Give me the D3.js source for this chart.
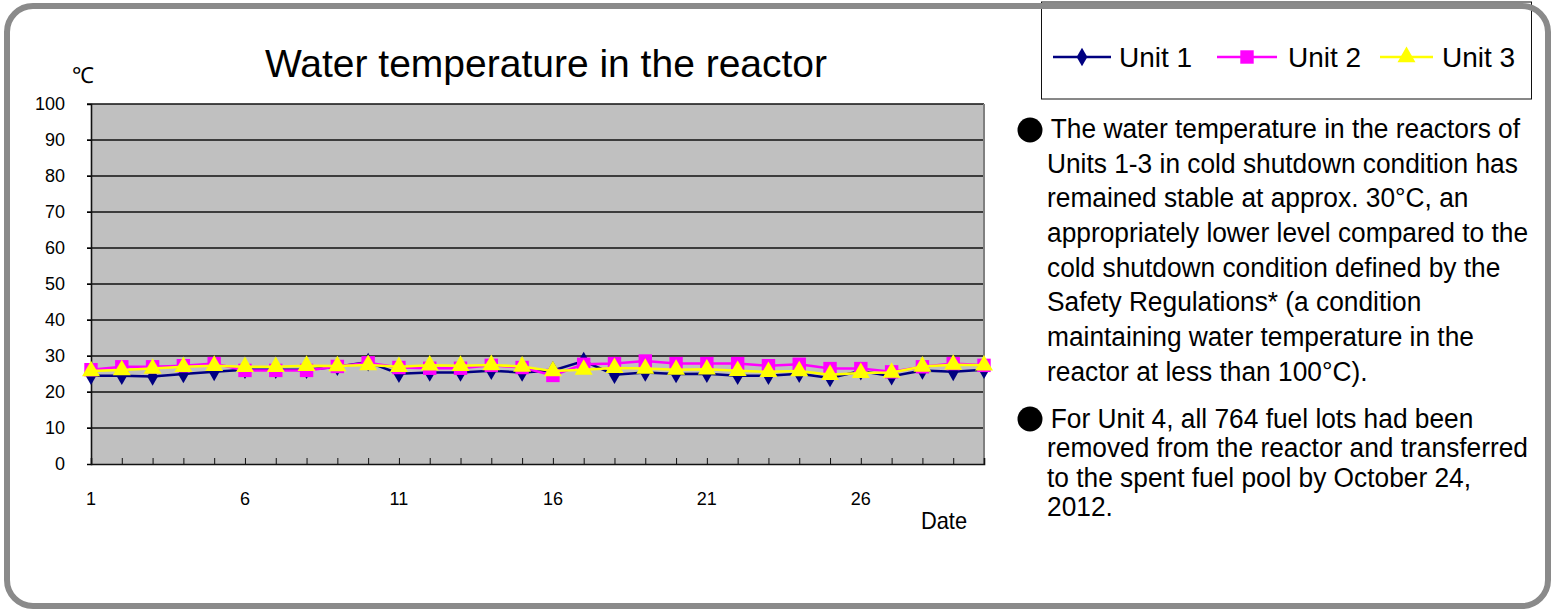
<!DOCTYPE html>
<html>
<head>
<meta charset="utf-8">
<script src="https://cdn.jsdelivr.net/npm/d3@7"></script>
<style>
    body { margin: 0; background: white; }
    svg { display: block; font-family: "Liberation Sans", Arial, sans-serif; }
</style>
</head>
<body>
<div id="chart"></div>
<script>
// days of the month
const days = d3.range(1, 31);
const dayLabels = [1, 6, 11, 16, 21, 26];
const yTicks = [0, 10, 20, 30, 40, 50, 60, 70, 80, 90, 100];

// water temperature (°C)
const unit1 = [24.5, 24.5, 24.3, 25.0, 25.6, 26.2, 26.2, 26.2, 27.0, 28.3,
               25.1, 25.4, 25.4, 25.9, 25.4, 26.0, 28.6, 24.8, 25.4, 25.0,
               25.1, 24.5, 24.5, 25.1, 23.9, 25.8, 24.4, 26.0, 25.6, 26.2];
const unit2 = [26.2, 27.0, 27.0, 27.3, 27.9, 26.0, 26.0, 26.0, 27.1, 28.1,
               26.8, 26.6, 26.6, 27.4, 26.8, 24.6, 27.7, 27.9, 28.6, 27.9,
               27.9, 27.9, 27.3, 27.7, 26.5, 26.5, 25.6, 27.0, 27.9, 27.4];
const unit3 = [25.8, 26.1, 26.5, 27.0, 27.3, 27.0, 27.0, 27.3, 27.2, 27.5,
               27.0, 27.4, 27.3, 27.5, 27.1, 25.8, 26.2, 26.7, 26.5, 26.2,
               26.3, 25.9, 25.6, 25.8, 24.8, 25.3, 25.4, 27.1, 27.6, 27.4];

const seriesNames = ["Unit 1", "Unit 2", "Unit 3"];

const note1 = [
    "The water temperature in the reactors of",
    "Units 1-3 in cold shutdown condition has",
    "remained stable at approx. 30°C, an",
    "appropriately lower level compared to the",
    "cold shutdown condition defined by the",
    "Safety Regulations* (a condition",
    "maintaining water temperature in the",
    "reactor at less than 100°C)."
];
const note2 = [
    "For Unit 4, all 764 fuel lots had been",
    "removed from the reactor and transferred",
    "to the spent fuel pool by October 24,",
    "2012."
];

const width = 1558;
const height = 616;

const series = [
    { name: seriesNames[0], values: unit1, color: "#000080", marker: d3.symbolDiamond, size: 100 },
    { name: seriesNames[1], values: unit2, color: "#ff00ff", marker: d3.symbolSquare, size: 180 },
    { name: seriesNames[2], values: unit3, color: "#ffff00", marker: d3.symbolTriangle, size: 140 }
];

const svg = d3.select("#chart")
    .append("svg")
    .attr("width", width)
    .attr("height", height);

// plot area
const plot = { left: 91, right: 984, top: 104, bottom: 464 };

const xScale = d3.scaleLinear().domain([1, 30]).range([plot.left, plot.right]);
const yScale = d3.scaleLinear().domain([0, 100]).range([plot.bottom, plot.top]);

svg.append("rect")
    .attr("x", plot.left)
    .attr("y", plot.top)
    .attr("width", plot.right - plot.left)
    .attr("height", plot.bottom - plot.top)
    .attr("fill", "#c0c0c0");

// gridlines
svg.append("g")
    .selectAll("line")
    .data(yTicks.filter(d => d > 0))
    .enter().append("line")
    .attr("x1", plot.left - 4)
    .attr("x2", plot.right)
    .attr("y1", d => yScale(d))
    .attr("y2", d => yScale(d))
    .attr("stroke", "#111")
    .attr("stroke-width", 1.3);

// right border
svg.append("line")
    .attr("x1", plot.right).attr("x2", plot.right)
    .attr("y1", plot.top).attr("y2", plot.bottom)
    .attr("stroke", "#808080")
    .attr("stroke-width", 2);

// y axis
const yAxis = svg.append("g")
    .attr("transform", `translate(${plot.left},0)`)
    .call(d3.axisLeft(yScale).tickValues(yTicks).tickSize(4).tickPadding(22));
yAxis.select(".domain").attr("stroke", "#111").attr("stroke-width", 1.6);
yAxis.selectAll("text")
    .attr("font-size", 18)
    .attr("font-family", "Liberation Sans, Arial, sans-serif")
    .attr("fill", "#000");

// x axis, ticks pointing into the plot
const xAxis = svg.append("g")
    .attr("transform", `translate(0,${plot.bottom})`)
    .call(d3.axisBottom(xScale).tickValues(days).tickSize(-6).tickFormat(""));
xAxis.select(".domain").attr("stroke", "#111").attr("stroke-width", 1.6);
xAxis.selectAll("line").attr("stroke", "#111");

svg.append("g")
    .selectAll("text")
    .data(dayLabels)
    .enter().append("text")
    .attr("x", d => xScale(d))
    .attr("y", 505)
    .attr("text-anchor", "middle")
    .attr("font-size", 18)
    .text(d => d);

svg.append("text")
    .attr("x", 921)
    .attr("y", 529)
    .attr("font-size", 23)
    .attr("transform", "translate(46,0) scale(0.95,1)")
    .text("Date");

svg.append("text")
    .attr("x", 72)
    .attr("y", 83)
    .attr("font-size", 22)
    .text("℃");

svg.append("text")
    .attr("x", 546)
    .attr("y", 77)
    .attr("text-anchor", "middle")
    .attr("font-size", 39)
    .text("Water temperature in the reactor");

// lines and markers
const line = d3.line()
    .x((d, i) => xScale(days[i]))
    .y(d => yScale(d));

series.forEach(s => {
    const g = svg.append("g");
    g.append("path")
        .datum(s.values)
        .attr("fill", "none")
        .attr("stroke", s.color)
        .attr("stroke-width", 2.5)
        .attr("d", line);
    g.selectAll("path.marker")
        .data(s.values)
        .enter().append("path")
        .attr("class", "marker")
        .attr("d", d3.symbol().type(s.marker).size(s.size))
        .attr("transform", (d, i) => `translate(${xScale(days[i])},${yScale(d)})`)
        .attr("fill", s.color);
});

// legend
svg.append("rect")
    .attr("x", 1041.5)
    .attr("y", 2)
    .attr("width", 490)
    .attr("height", 97)
    .attr("fill", "white")
    .attr("stroke", "#111")
    .attr("stroke-width", 1);

const legendX = [1053, 1217, 1380];
const legendW = [58, 60, 53];
const legendTextX = [1119, 1288, 1442];

series.forEach((s, i) => {
    const g = svg.append("g");
    g.append("line")
        .attr("x1", legendX[i]).attr("x2", legendX[i] + legendW[i])
        .attr("y1", 57).attr("y2", 57)
        .attr("stroke", s.color)
        .attr("stroke-width", 2.5);
    g.append("path")
        .attr("d", d3.symbol().type(s.marker).size(s.size))
        .attr("transform", `translate(${legendX[i] + legendW[i] / 2},57)`)
        .attr("fill", s.color);
    g.append("text")
        .attr("x", legendTextX[i])
        .attr("y", 67)
        .attr("font-size", 28)
        .text(s.name);
});

// notes on the right
function drawNote(lines, y0, step, bulletY) {
    svg.append("circle")
        .attr("cx", 1030)
        .attr("cy", bulletY)
        .attr("r", 12.5)
        .attr("fill", "#000");
    svg.append("g")
        .attr("transform", "translate(1047,0) scale(0.94,1)")
        .selectAll("text")
        .data(lines)
        .enter().append("text")
        .attr("x", (d, i) => i === 0 ? 4 : 0)
        .attr("y", (d, i) => y0 + i * step)
        .attr("font-size", 28)
        .text(d => d);
}

drawNote(note1, 138, 34.7, 130);
drawNote(note2, 428, 29.5, 419);

// outer rounded frame
svg.append("rect")
    .attr("x", 7)
    .attr("y", 6)
    .attr("width", 1541)
    .attr("height", 600)
    .attr("rx", 26)
    .attr("fill", "none")
    .attr("stroke", "#8a8a8a")
    .attr("stroke-width", 6);
</script>
</body>
</html>
